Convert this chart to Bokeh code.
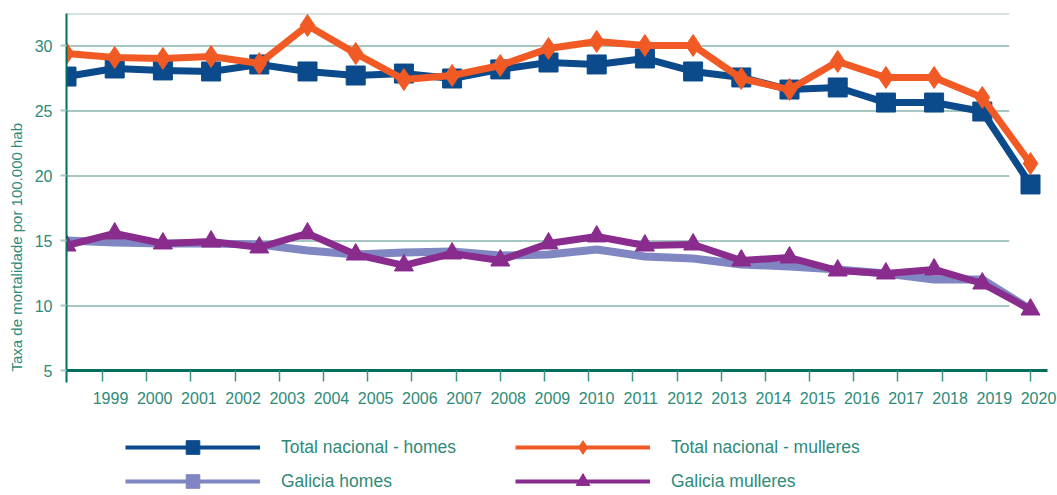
from bokeh.plotting import figure
from bokeh.models import Range1d, LinearAxis, FixedTicker, Legend, LegendItem, Title
from bokeh.embed import file_html
from bokeh.resources import INLINE

# ---------------- data ----------------
years = list(range(2000, 2021))            # 21 data points
tick_years = list(range(1999, 2021))       # 22 axis labels
tick_labels = [str(y) for y in tick_years]
y_ticks = [5, 10, 15, 20, 25, 30]

nac_homes = [27.65, 28.27, 28.12, 28.04, 28.58, 28.04, 27.73, 27.88, 27.5, 28.2, 28.73,
             28.58, 29.04, 28.04, 27.58, 26.65, 26.81, 25.65, 25.65, 24.96, 19.35]
nac_mulleres = [29.42, 29.12, 29.04, 29.19, 28.65, 31.58, 29.42, 27.42, 27.73, 28.5, 29.81,
                30.35, 30.04, 30.04, 27.5, 26.65, 28.81, 27.58, 27.58, 26.04, 20.96]
gal_homes = [15.04, 14.88, 14.81, 14.81, 14.73, 14.27, 13.96, 14.12, 14.19, 13.88, 13.96,
             14.35, 13.81, 13.65, 13.19, 13.04, 12.81, 12.5, 12.04, 12.04, 9.73]
gal_mulleres = [14.65, 15.58, 14.81, 14.96, 14.5, 15.58, 13.96, 13.12, 14.04, 13.5, 14.81,
                15.35, 14.65, 14.73, 13.5, 13.73, 12.73, 12.5, 12.81, 11.73, 9.73]

labels = ["Total nacional - homes", "Total nacional - mulleres", "Galicia homes", "Galicia mulleres"]
y_title = "Taxa de mortalidade por 100.000 hab"

# ---------------- layout / style ----------------
X_RANGE = (2000, 2020.56)
TICK_RANGE = (1998.185, 2020.61)
TICK_AXIS_END = 2020.385
LABEL_RANGE = (1998.004, 2020.43)
Y_RANGE = (-4.577, 32.5)      # frame runs to the canvas bottom; axis sits at y = 5
Y_AXIS_AT = 5
Y_STUB = 4.08
GRID_END = 2019.56
NAN = float("nan")

FONT = "Liberation Sans"
TEXT = "#2e8b78"
BLUE = "#0b4a8b"
ORANGE = "#f15a24"
LAV = "#7f86c1"
PURPLE = "#8a2b8e"
GRID = "#a9c7c2"
AXIS = "#00705c"

p = figure(width=1057, height=495, output_backend="svg", toolbar_location=None,
           x_range=Range1d(*X_RANGE), y_range=Range1d(*Y_RANGE),
           x_axis_location=None,
           min_border_left=66, min_border_right=0, min_border_top=13, min_border_bottom=0)
p.outline_line_color = None
p.grid.visible = False
p.background_fill_color = "white"
p.border_fill_color = "white"

# y axis
yax = p.yaxis[0]
yax.ticker = FixedTicker(ticks=y_ticks)
yax.bounds = (Y_STUB, Y_RANGE[1])
yax.axis_line_color = AXIS
yax.axis_line_width = 2
yax.major_tick_line_color = GRID
yax.major_tick_line_width = 2
yax.major_tick_out = 6
yax.major_tick_in = 0
yax.minor_tick_line_color = None
yax.major_label_standoff = 8
yax.major_label_text_font = FONT
yax.major_label_text_font_size = "16px"
yax.major_label_text_color = TEXT

# y title, starting level with the x axis
p.add_layout(Title(text=y_title, align="left", offset=124, standoff=10, vertical_align="top",
                   text_font=FONT, text_font_size="15px", text_font_style="normal",
                   text_color=TEXT), "left")

# x axes (placed at y = 5): ticks and labels on separate ranges
p.extra_x_ranges = {"ticks": Range1d(*TICK_RANGE), "labels": Range1d(*LABEL_RANGE)}
ax_t = LinearAxis(x_range_name="ticks", ticker=FixedTicker(ticks=tick_years),
                  fixed_location=Y_AXIS_AT, bounds=(TICK_RANGE[0], TICK_AXIS_END),
                  axis_line_color=AXIS, axis_line_width=3,
                  major_tick_line_color="#3f9585", major_tick_line_width=1.5,
                  major_tick_out=11, major_tick_in=0, minor_tick_line_color=None,
                  major_label_text_font_size="1px", major_label_text_alpha=0,
                  major_label_standoff=0)
p.add_layout(ax_t, "below")
ax_l = LinearAxis(x_range_name="labels", ticker=FixedTicker(ticks=tick_years),
                  fixed_location=Y_AXIS_AT,
                  major_label_overrides=dict(zip(tick_years, tick_labels)),
                  axis_line_color=None, major_tick_line_color=None,
                  major_tick_out=0, major_tick_in=0, minor_tick_line_color=None,
                  major_label_text_font=FONT, major_label_text_font_size="16px",
                  major_label_text_color=TEXT, major_label_standoff=21)
p.add_layout(ax_l, "below")

# gridlines (stop short of the right end like the original)
grid_vals = y_ticks[1:] + [Y_RANGE[1]]
p.segment(x0=[X_RANGE[0]] * len(grid_vals), x1=[GRID_END] * len(grid_vals),
          y0=grid_vals, y1=grid_vals, line_color=GRID, line_width=2)

# series
p.line(years, gal_homes, line_color=LAV, line_width=8, line_join="round")
p.line(years, gal_mulleres, line_color=PURPLE, line_width=7, line_join="round")
p.scatter(years, gal_mulleres, marker="triangle", size=19, fill_color=PURPLE, line_color=PURPLE)

p.line(years, nac_homes, line_color=BLUE, line_width=7, line_join="round")
p.scatter(years, nac_homes, marker="square", size=19, fill_color=BLUE, line_color=BLUE)
p.line(years, nac_mulleres, line_color=ORANGE, line_width=7, line_join="round")
p.scatter(years, nac_mulleres, marker="diamond", size=22, fill_color=ORANGE, line_color=ORANGE)

# legend (dummy renderers holding no visible point, styled like the legend keys)
def legend_item(label, color, marker, msize):
    l = p.line(x=[NAN], y=[NAN], line_color=color, line_width=4)
    m = p.scatter(x=[NAN], y=[NAN], marker=marker, size=msize, fill_color=color, line_color=color)
    return LegendItem(label=label, renderers=[l, m])

items = [legend_item(labels[0], BLUE, "square", 15),
         legend_item(labels[2], LAV, "square", 8),
         legend_item(labels[1], ORANGE, "diamond", 17),
         legend_item(labels[3], PURPLE, "triangle", 16)]

lg = Legend(items=items, location=(59, -3), orientation="vertical", ncols=2,
            glyph_width=135, glyph_height=34, label_height=34, label_width=234,
            label_standoff=21, spacing=0, padding=0, margin=0,
            border_line_alpha=0, background_fill_alpha=0,
            label_text_font=FONT, label_text_font_size="17.5px", label_text_color=TEXT)
p.add_layout(lg, "center")

open("out.html", "w").write(file_html(p, INLINE))
